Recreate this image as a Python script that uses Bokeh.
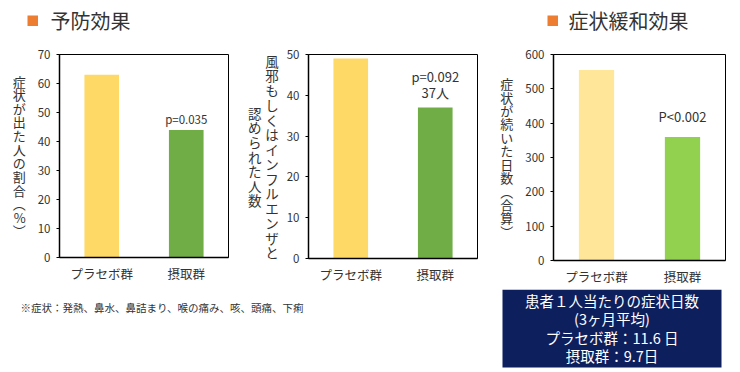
from bokeh.plotting import figure
from bokeh.models import (Range1d, FactorRange, SingleIntervalTicker, Label,
                          BoxAnnotation, ColumnDataSource, LinearAxis,
                          FixedTicker)
from bokeh.layouts import row, column
from bokeh.core.properties import value
from bokeh.embed import file_html
from bokeh.resources import INLINE

JP = "Noto Sans CJK JP"
TXT = "#333333"

groups = ["プラセボ群", "摂取群"]
prev_values = [63, 44]
flu_values = [49, 37]
days_values = [555, 360]
prev_notes = ["", "p=0.035"]
flu_notes = ["", "p=0.092\n37人"]
days_notes = ["", "P<0.002"]
prev_colors = ["#FFD966", "#70AD47"]
days_colors = ["#FFE699", "#92D050"]

title1 = "予防効果"
title2 = "症状緩和効果"
ylabel1 = "症状が出た人の割合︵%︶"
ylabel2a = "風邪もしくはインフルエンザと"
ylabel2b = "認められた人数"
ylabel3 = "症状が続いた日数︵合算︶"
footnote = "※症状：発熱、鼻水、鼻詰まり、喉の痛み、咳、頭痛、下痢"
boxtext = "患者１人当たりの症状日数\n(3ヶ月平均)\nプラセボ群：11.6 日\n摂取群：9.7日"

METRIC = 1.448  # Noto Sans CJK ascent + descent (em)


def lh(size_px, spacing):
    return spacing / (size_px * METRIC)


def style_ylabel(ax, text, size_px, spacing, standoff):
    ax.axis_label = "\n".join(text)
    ax.axis_label_orientation = "horizontal"
    ax.axis_label_text_font = JP
    ax.axis_label_text_font_style = "normal"
    ax.axis_label_text_font_size = f"{size_px}px"
    ax.axis_label_text_color = TXT
    ax.axis_label_text_line_height = lh(size_px, spacing)
    ax.axis_label_standoff = standoff


def blank_fig(w, h):
    p = figure(x_range=Range1d(0, w), y_range=Range1d(0, h),
               frame_width=w, frame_height=h, min_border=0,
               x_axis_location=None, y_axis_location=None,
               toolbar_location=None, output_backend="svg")
    p.xgrid.visible = False
    p.ygrid.visible = False
    p.outline_line_color = None
    p.border_fill_color = "white"
    return p


def make_chart(values, colors, notes, ymax, step, fw, fh, bl, br, bt, bb,
               note_size, note_offset):
    p = figure(x_range=FactorRange(factors=groups), y_range=Range1d(0, ymax),
               frame_width=fw, frame_height=fh,
               min_border_left=bl, min_border_right=br,
               min_border_top=bt, min_border_bottom=bb,
               toolbar_location=None, output_backend="svg")
    src = ColumnDataSource(dict(x=groups, top=values, color=colors, note=notes))
    p.vbar(x="x", top="top", width=0.41, fill_color="color", line_color=None,
           source=src)
    p.text(x="x", y="top", text="note", source=src, text_align="center",
           text_baseline="bottom", y_offset=note_offset,
           text_font=value(JP), text_font_size=note_size, text_color=TXT,
           text_line_height=0.8)
    p.xgrid.visible = False
    p.ygrid.visible = False
    p.outline_line_color = "black"
    p.outline_line_width = 1
    p.background_fill_color = "white"
    p.border_fill_color = "white"
    p.yaxis.ticker = SingleIntervalTicker(interval=step)
    p.yaxis.minor_tick_line_color = None
    p.yaxis.major_tick_out = 3
    p.yaxis.major_tick_in = 0
    p.yaxis.major_tick_line_color = "black"
    p.yaxis.axis_line_color = "black"
    p.yaxis.axis_line_width = 1.5
    p.yaxis.major_label_standoff = 5
    p.yaxis.major_label_text_font = JP
    p.yaxis.major_label_text_font_size = "11.5px"
    p.yaxis.major_label_text_color = TXT
    p.xaxis.major_tick_line_color = None
    p.xaxis.axis_line_color = "black"
    p.xaxis.axis_line_width = 1.5
    p.xaxis.major_label_standoff = 0
    p.xaxis.major_label_text_font = JP
    p.xaxis.major_label_text_font_size = "12.5px"
    p.xaxis.major_label_text_color = TXT
    return p


# header with section titles (page y 0..40)
ph = blank_fig(740, 40)
for sq_left, txt_left, txt in [(27, 50, title1), (547, 568, title2)]:
    ph.add_layout(BoxAnnotation(left=sq_left, right=sq_left + 10.5,
                                top=25, bottom=14.5,
                                fill_color="#ED7D31", fill_alpha=1,
                                line_color=None))
    ph.add_layout(Label(x=txt_left, y=20.5, text=txt, text_baseline="middle",
                        text_align="left", text_font=JP,
                        text_font_size="20px", text_color=TXT))

# charts (page y 40..289)
p1 = make_chart(prev_values, prev_colors, prev_notes, 70, 10,
                169, 203, 59, 17, 14, 32, "11.5px", -3)
style_ylabel(p1.yaxis[0], ylabel1, 13, 13.5, 9)

p2 = make_chart(flu_values, prev_colors, flu_notes, 50, 10,
                169, 204, 63, 18, 13, 32, "13px", -6)
style_ylabel(p2.yaxis[0], ylabel2a, 13.5, 14.4, 5)
ax2b = LinearAxis(ticker=FixedTicker(ticks=[]), major_tick_line_color=None,
                  minor_tick_line_color=None, axis_line_color=None,
                  major_label_standoff=0, major_tick_out=0)
style_ylabel(ax2b, ylabel2b, 13.5, 14.2, 1)
p2.add_layout(ax2b, "left")

p3 = make_chart(days_values, days_colors, days_notes, 600, 100,
                172, 206, 58, 15, 11, 32, "13px", -11)
style_ylabel(p3.yaxis[0], ylabel3, 13, 13.3, 9)

# footer: footnote and summary box (page y 289..372)
pb = blank_fig(740, 83)
pb.add_layout(Label(x=20, y=65, text=footnote, text_baseline="middle",
                    text_align="left", text_font=JP, text_font_size="10.5px",
                    text_color=TXT))
pb.add_layout(BoxAnnotation(left=502, right=721, top=83, bottom=5,
                            fill_color="#0E1F5E", fill_alpha=1,
                            line_color=None))
pb.add_layout(Label(x=611.5, y=44.5, text=boxtext, text_align="center",
                    text_baseline="middle", text_font=JP,
                    text_font_size="14.5px", text_color="white",
                    text_line_height=lh(14.5, 18.3)))

layout = column(ph, row(p1, p2, p3), pb)
open("out.html", "w").write(file_html(layout, INLINE))
